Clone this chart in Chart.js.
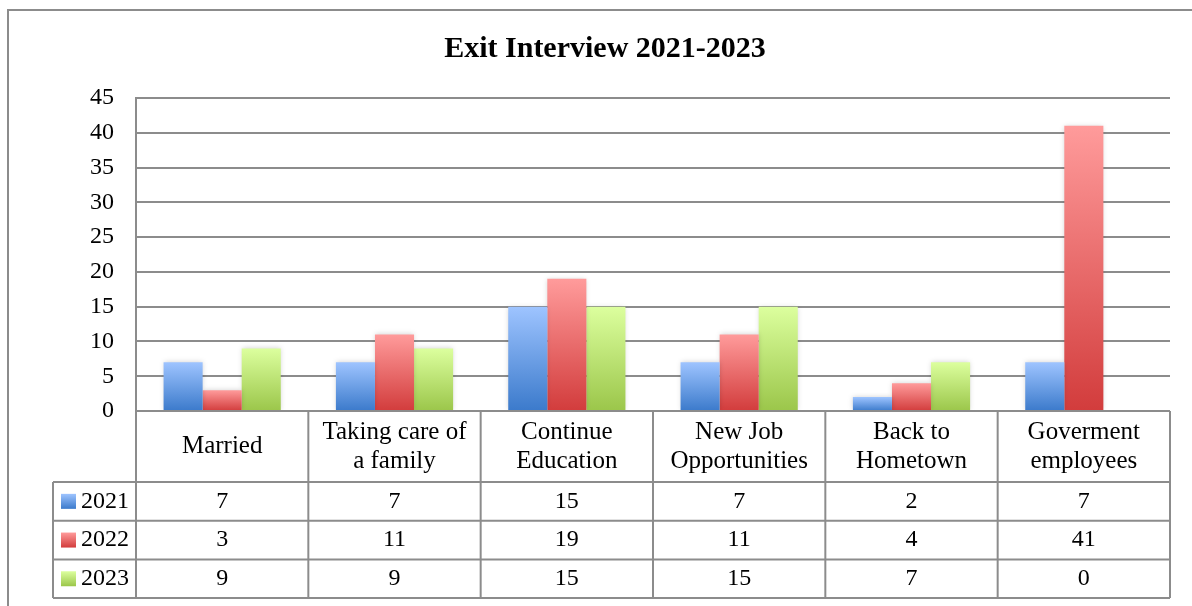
<!DOCTYPE html>
<html>
<head>
<meta charset="utf-8">
<script src="https://cdn.jsdelivr.net/npm/chart.js@4"></script>
<style>
  html, body { margin: 0; padding: 0; background: #fff; }
  #wrap { width: 1192px; height: 606px; position: relative; }
</style>
</head>
<body>
<div id="wrap"><canvas id="chart"></canvas></div>
<script>
const categories = [
  ['Married'],
  ['Taking care of', 'a family'],
  ['Continue', 'Education'],
  ['New Job', 'Opportunities'],
  ['Back to', 'Hometown'],
  ['Goverment', 'employees']
];
const seriesNames = ['2021', '2022', '2023'];
const values2021 = [7, 7, 15, 7, 2, 7];
const values2022 = [3, 11, 19, 11, 4, 41];
const values2023 = [9, 9, 15, 15, 7, 0];
const yMax = 45;
const yStep = 5;

const FONT = "'Liberation Serif', 'Times New Roman', serif";
const LINE = '#8c8c8c';
// light top -> dark bottom, like the Excel preset fills
const fills = [
  ['#9ec4ff', '#3b7acb'],
  ['#ff9b9b', '#d23c3c'],
  ['#dcff9e', '#9bc64a']
];

function barGradient(idx) {
  return (c) => {
    const chart = c.chart;
    const y = chart.scales.y;
    if (!y || c.raw === undefined) return fills[idx][1];
    const top = y.getPixelForValue(c.raw);
    const base = y.getPixelForValue(0);
    if (!isFinite(top) || base - top < 1) return fills[idx][1];
    const g = chart.ctx.createLinearGradient(0, top, 0, base);
    g.addColorStop(0, fills[idx][0]);
    g.addColorStop(1, fills[idx][1]);
    return g;
  };
}

const frame = {
  id: 'frame',
  beforeDraw(chart) {
    const ctx = chart.ctx;
    ctx.save();
    ctx.strokeStyle = LINE;
    ctx.lineWidth = 2;
    ctx.strokeRect(8, 10, chart.width + 20, chart.height + 20);
    ctx.restore();
  }
};

const barShadow = {
  id: 'barShadow',
  beforeDatasetDraw(chart) {
    const ctx = chart.ctx;
    ctx.save();
    ctx.shadowColor = 'rgba(0,0,0,0.18)';
    ctx.shadowBlur = 5;
    ctx.shadowOffsetX = 0;
    ctx.shadowOffsetY = 0;
  },
  afterDatasetDraw(chart) {
    chart.ctx.restore();
  }
};

const HEADER_H = 71;
const ROW_H = 38.7;
const LEGEND_LEFT = 53;

const dataTable = {
  id: 'dataTable',
  afterDraw(chart) {
    const ctx = chart.ctx;
    const area = chart.chartArea;
    const xs = chart.scales.x;
    const n = categories.length;
    const cw = (area.right - area.left) / n;
    const top = area.bottom;
    const rowsTop = top + HEADER_H;
    const bottom = rowsTop + ROW_H * seriesNames.length;

    ctx.save();
    ctx.strokeStyle = LINE;
    ctx.lineWidth = 2;
    ctx.beginPath();
    // horizontal lines
    ctx.moveTo(area.left, top); ctx.lineTo(area.right, top);
    for (let r = 0; r <= seriesNames.length; r++) {
      const y = rowsTop + r * ROW_H;
      ctx.moveTo(LEGEND_LEFT, y); ctx.lineTo(area.right, y);
    }
    // vertical lines
    for (let i = 0; i <= n; i++) {
      const x = area.left + i * cw;
      ctx.moveTo(x, top); ctx.lineTo(x, bottom);
    }
    ctx.moveTo(LEGEND_LEFT, rowsTop); ctx.lineTo(LEGEND_LEFT, bottom);
    ctx.stroke();

    ctx.fillStyle = '#000';
    ctx.textAlign = 'center';
    ctx.textBaseline = 'middle';
    ctx.font = '25px ' + FONT;
    // category header
    categories.forEach((lines, i) => {
      const cx = xs.getPixelForValue(i);
      const lh = 29;
      const y0 = top + HEADER_H / 2 - (lines.length - 1) * lh / 2;
      lines.forEach((t, k) => ctx.fillText(t, cx, y0 + k * lh));
    });
    ctx.font = '24px ' + FONT;
    // value rows
    chart.data.datasets.forEach((ds, r) => {
      const cy = rowsTop + r * ROW_H + ROW_H / 2;
      ctx.textAlign = 'center';
      ds.data.forEach((v, i) => ctx.fillText(String(v), xs.getPixelForValue(i), cy));
      // legend key
      const g = ctx.createLinearGradient(0, cy - 7.5, 0, cy + 7.5);
      g.addColorStop(0, fills[r][0]);
      g.addColorStop(1, fills[r][1]);
      ctx.fillStyle = g;
      ctx.fillRect(61, cy - 7.5, 15, 15);
      ctx.fillStyle = '#000';
      ctx.textAlign = 'left';
      ctx.fillText(ds.label, 81, cy);
    });
    ctx.restore();
  }
};

new Chart(document.getElementById('chart'), {
  type: 'bar',
  data: {
    labels: categories,
    datasets: [
      { label: seriesNames[0], data: values2021, backgroundColor: barGradient(0) },
      { label: seriesNames[1], data: values2022, backgroundColor: barGradient(1) },
      { label: seriesNames[2], data: values2023, backgroundColor: barGradient(2) }
    ]
  },
  options: {
    responsive: true,
    maintainAspectRatio: false,
    animation: false,
    layout: { padding: { left: 40, right: 22, top: 0, bottom: 0 } },
    datasets: { bar: { categoryPercentage: 0.68, barPercentage: 1.0, borderWidth: 0 } },
    plugins: {
      legend: { display: false },
      tooltip: { enabled: false },
      title: {
        display: true,
        text: 'Exit Interview 2021-2023',
        color: '#000',
        font: { family: FONT, size: 30, weight: 'bold', lineHeight: 1.2 },
        padding: { top: 31, bottom: 31 }
      }
    },
    scales: {
      x: {
        ticks: { display: false },
        grid: { display: false },
        border: { display: false },
        afterFit(scale) { scale.height = 195; }
      },
      y: {
        min: 0,
        max: yMax,
        ticks: { stepSize: yStep, color: '#000', padding: 22, font: { family: FONT, size: 24 } },
        grid: { color: LINE, lineWidth: 2, drawTicks: false },
        border: { display: true, color: LINE, width: 2 },
        afterFit(scale) { scale.width = 96; }
      }
    }
  },
  plugins: [frame, barShadow, dataTable]
});
</script>
</body>
</html>
